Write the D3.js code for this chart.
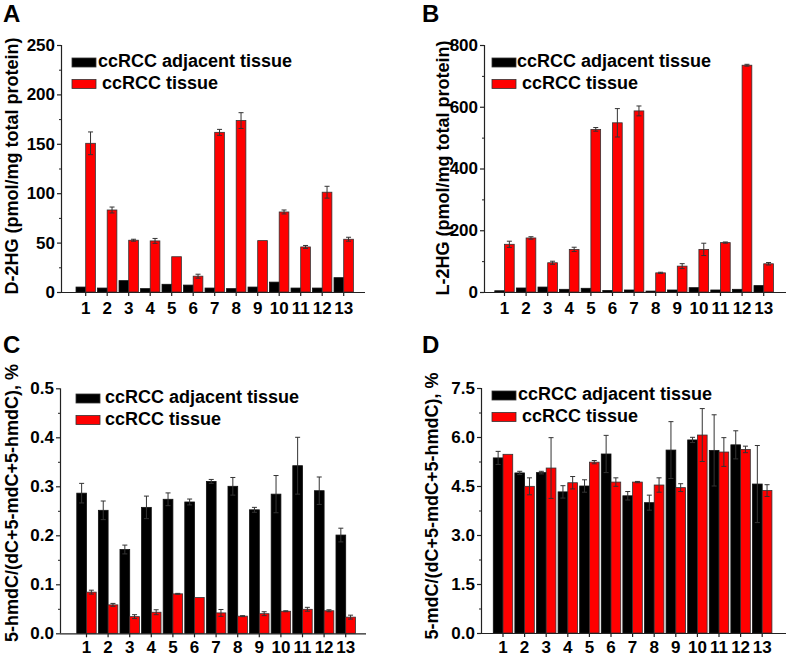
<!DOCTYPE html>
<html>
<head>
<meta charset="utf-8">
<script src="https://cdn.jsdelivr.net/npm/d3@7"></script>
<style>
  body { margin: 0; background: #fff; }
  svg { display: block; }
  text { font-family: "Liberation Sans", Arial, sans-serif; font-weight: bold; fill: #000; }
</style>
</head>
<body>
<svg id="fig" width="787" height="657"></svg>
<script>
// Sample numbers on the x axis
const categories = ["1", "2", "3", "4", "5", "6", "7", "8", "9", "10", "11", "12", "13"];
const seriesNames = ["ccRCC adjacent tissue", "ccRCC tissue"];

// A: D-2HG
const d2hgAdj = [5, 4, 11.5, 3.4, 7.8, 7, 4, 3.4, 5, 10, 4, 4, 14.5];
const d2hgAdjErr = [0, 0, 0, 0, 0, 0, 0, 0, 0, 0, 0, 0, 0];
const d2hgTum = [150.5, 83, 52.4, 51.7, 35.7, 16, 161.6, 173.5, 52, 81, 45.6, 101, 53.4];
const d2hgTumErr = [11.5, 3, 1, 2.5, 0, 2, 3, 8, 0, 2, 1.5, 6, 2];

// B: L-2HG
const l2hgAdj = [4, 13, 16, 8.7, 12, 5, 6.5, 3, 6.5, 14, 6.5, 8.7, 20.7];
const l2hgAdjErr = [0, 0, 0, 0, 0, 0, 0, 0, 0, 0, 0, 0, 0];
const l2hgTum = [154.5, 175, 94.7, 138, 526.7, 548, 586.5, 62, 83.8, 138, 160, 734.5, 91.4];
const l2hgTumErr = [10, 4, 5, 7, 6, 46, 16, 2, 8, 20, 2, 3, 4];

// C: 5-hmdC
const hmdcAdj = [0.286, 0.251, 0.171, 0.257, 0.2735, 0.268, 0.310, 0.300, 0.252, 0.284, 0.342, 0.291, 0.2005];
const hmdcAdjErr = [0.02, 0.019, 0.009, 0.023, 0.013, 0.006, 0.004, 0.018, 0.005, 0.038, 0.058, 0.028, 0.014];
const hmdcTum = [0.084, 0.058, 0.034, 0.043, 0.0805, 0.073, 0.0416, 0.035, 0.040, 0.045, 0.049, 0.046, 0.033];
const hmdcTumErr = [0.004, 0.003, 0.004, 0.005, 0.001, 0, 0.007, 0.001, 0.004, 0.001, 0.004, 0.002, 0.004];

// D: 5-mdC
const mdcAdj = [5.36, 4.90, 4.91, 4.32, 4.50, 5.48, 4.20, 3.99, 5.60, 5.91, 5.59, 5.76, 4.56];
const mdcAdjErr = [0.2, 0.05, 0.04, 0.19, 0.19, 0.57, 0.13, 0.23, 0.87, 0.08, 1.09, 0.43, 1.18];
const mdcTum = [5.47, 4.49, 5.05, 4.60, 5.23, 4.62, 4.62, 4.53, 4.45, 6.06, 5.54, 5.62, 4.36];
const mdcTumErr = [0, 0.26, 0.93, 0.19, 0.05, 0.13, 0.02, 0.22, 0.12, 0.81, 0.44, 0.1, 0.18];

const panels = [
  {
    letter: "A", title: "D-2HG (pmol/mg total protein)",
    adj: d2hgAdj, adjErr: d2hgAdjErr, tum: d2hgTum, tumErr: d2hgTumErr,
    max: 250, major: 50, minor: 25, fmt: d3.format("d"),
    left: 61, right: 365, top: 45, bottom: 292, first: 85.7, step: 21.5, xPad: 6,
    letterX: 3, letterY: 22, titleX: 18, titleY: 166,
    legX: 72, legY: 58, legTx: [98, 102]
  },
  {
    letter: "B", title: "L-2HG (pmol/mg total protein)",
    adj: l2hgAdj, adjErr: l2hgAdjErr, tum: l2hgTum, tumErr: l2hgTumErr,
    max: 800, major: 200, minor: 100, fmt: d3.format("d"),
    left: 484, right: 786, top: 45, bottom: 292, first: 504.5, step: 21.6, xPad: 6,
    letterX: 422, letterY: 22, titleX: 449, titleY: 168,
    legX: 492, legY: 58, legTx: [517, 522]
  },
  {
    letter: "C", title: "5-hmdC/(dC+5-mdC+5-hmdC), %",
    adj: hmdcAdj, adjErr: hmdcAdjErr, tum: hmdcTum, tumErr: hmdcTumErr,
    max: 0.5, major: 0.1, minor: 0.05, fmt: d3.format(".1f"),
    left: 60, right: 366, top: 388.3, bottom: 633.3, first: 86.5, step: 21.6, xPad: 4,
    letterX: 3, letterY: 353, titleX: 18, titleY: 503,
    legX: 76, legY: 394, legTx: [105, 105]
  },
  {
    letter: "D", title: "5-mdC/(dC+5-mdC+5-hmdC), %",
    adj: mdcAdj, adjErr: mdcAdjErr, tum: mdcTum, tumErr: mdcTumErr,
    max: 7.5, major: 1.5, minor: 0.75, fmt: d3.format(".1f"),
    left: 481, right: 786, top: 388, bottom: 633, first: 503, step: 21.6, xPad: 4,
    letterX: 422, letterY: 353, titleX: 438, titleY: 506,
    legX: 492, legY: 391, legTx: [518, 522]
  }
];

const svg = d3.select("#fig");
const axisColor = "#222";

const drawPanel = (p) => {
  const g = svg.append("g");

  // category scale: one band per sample, centred on the tick
  const x = d3.scaleBand()
    .domain(categories)
    .range([p.first - p.step / 2, p.first + 12 * p.step + p.step / 2])
    .padding(0);
  const y = d3.scaleLinear().domain([0, p.max]).range([p.bottom, p.top]);

  const bw = p.step * 0.45;
  const cx = (c) => x(c) + x.bandwidth() / 2;

  const rows = categories.map((c, i) => ({
    c, adj: p.adj[i], adjErr: p.adjErr[i], tum: p.tum[i], tumErr: p.tumErr[i]
  }));

  // bars
  g.selectAll(".adj").data(rows).enter().append("rect")
    .attr("x", (d) => cx(d.c) - bw)
    .attr("y", (d) => y(d.adj))
    .attr("width", bw)
    .attr("height", (d) => y(0) - y(d.adj))
    .attr("fill", "#000")
    .attr("stroke", "#111")
    .attr("stroke-width", 0.8);

  g.selectAll(".tum").data(rows).enter().append("rect")
    .attr("x", (d) => cx(d.c))
    .attr("y", (d) => y(d.tum))
    .attr("width", bw)
    .attr("height", (d) => y(0) - y(d.tum))
    .attr("fill", "#ff0000")
    .attr("stroke", "#333")
    .attr("stroke-width", 0.8);

  // error bars
  const errs = [];
  rows.forEach((d) => {
    if (d.adjErr > 0) errs.push({ xc: cx(d.c) - bw / 2, v: d.adj, e: d.adjErr });
    if (d.tumErr > 0) errs.push({ xc: cx(d.c) + bw / 2, v: d.tum, e: d.tumErr });
  });
  const eg = g.selectAll(".err").data(errs).enter().append("g")
    .attr("stroke", "#333").attr("stroke-width", 1).attr("fill", "none");
  eg.append("line")
    .attr("x1", (d) => d.xc).attr("x2", (d) => d.xc)
    .attr("y1", (d) => y(d.v - d.e)).attr("y2", (d) => y(d.v + d.e));
  eg.append("line")
    .attr("x1", (d) => d.xc - 2.5).attr("x2", (d) => d.xc + 2.5)
    .attr("y1", (d) => y(d.v + d.e)).attr("y2", (d) => y(d.v + d.e));
  eg.append("line")
    .attr("x1", (d) => d.xc - 2.5).attr("x2", (d) => d.xc + 2.5)
    .attr("y1", (d) => y(d.v - d.e)).attr("y2", (d) => y(d.v - d.e));

  // y axis, major + minor ticks
  const majors = d3.range(0, p.max + p.major / 2, p.major);
  const minors = d3.range(p.minor, p.max, p.major);
  g.append("g")
    .attr("transform", `translate(${p.left},0)`)
    .call(d3.axisLeft(y).tickValues(minors).tickSize(2).tickFormat(""))
    .call((a) => a.select(".domain").remove())
    .call((a) => a.selectAll("line").attr("stroke", axisColor));
  const ya = g.append("g")
    .attr("transform", `translate(${p.left},0)`)
    .call(d3.axisLeft(y).tickValues(majors).tickSize(4).tickSizeOuter(0).tickPadding(2).tickFormat(p.fmt));
  ya.select(".domain").attr("stroke", axisColor).attr("stroke-width", 1.2)
    .attr("d", `M0.5,${p.top}V${p.bottom}`);
  ya.selectAll("line").attr("stroke", axisColor).attr("stroke-width", 1.2);
  ya.selectAll("text").attr("font-size", 17);

  // x axis
  const xa = g.append("g")
    .attr("transform", `translate(0,${p.bottom})`)
    .call(d3.axisBottom(x).tickSize(4).tickPadding(p.xPad).tickSizeOuter(0));
  xa.select(".domain").attr("stroke", axisColor).attr("stroke-width", 1.2)
    .attr("d", `M${p.left},0.5H${p.right}`);
  xa.selectAll("line").attr("stroke", axisColor).attr("stroke-width", 1.2);
  xa.selectAll("text").attr("font-size", 17);

  // axis title
  g.append("text")
    .attr("transform", `translate(${p.titleX},${p.titleY}) rotate(-90)`)
    .attr("text-anchor", "middle")
    .attr("font-size", 18)
    .text(p.title);

  // panel letter
  g.append("text")
    .attr("x", p.letterX).attr("y", p.letterY)
    .attr("font-size", 24)
    .text(p.letter);

  // legend
  const fills = ["#000", "#ff0000"];
  seriesNames.forEach((name, i) => {
    const yy = p.legY + i * 21.5;
    g.append("rect")
      .attr("x", p.legX).attr("y", yy)
      .attr("width", 24).attr("height", 9)
      .attr("fill", fills[i]).attr("stroke", "#333").attr("stroke-width", 0.8);
    g.append("text")
      .attr("x", p.legTx[i]).attr("y", yy + 9)
      .attr("font-size", 18)
      .text(name);
  });
};

panels.forEach(drawPanel);
</script>
</body>
</html>
